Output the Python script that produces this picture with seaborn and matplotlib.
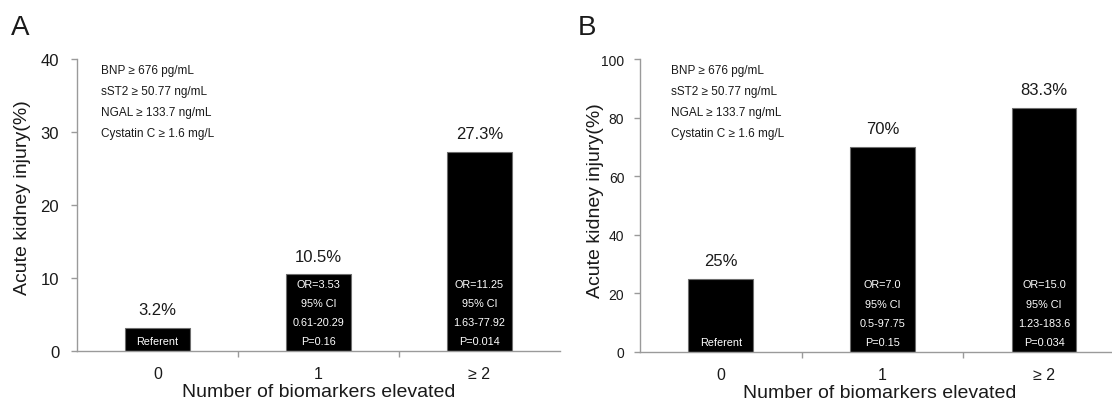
import pandas as pd
import seaborn as sns
import matplotlib.pyplot as plt

categories = ["0", "1", "≥ 2"]
aki_a = [3.2, 10.5, 27.3]
aki_b = [25.0, 70.0, 83.3]
pct_a = ["3.2%", "10.5%", "27.3%"]
pct_b = ["25%", "70%", "83.3%"]
stats_a = [["Referent"],
           ["OR=3.53", "95% CI", "0.61-20.29", "P=0.16"],
           ["OR=11.25", "95% CI", "1.63-77.92", "P=0.014"]]
stats_b = [["Referent"],
           ["OR=7.0", "95% CI", "0.5-97.75", "P=0.15"],
           ["OR=15.0", "95% CI", "1.23-183.6", "P=0.034"]]
criteria = ["BNP ≥ 676 pg/mL", "sST2 ≥ 50.77 ng/mL",
            "NGAL ≥ 133.7 ng/mL", "Cystatin C ≥ 1.6 mg/L"]

sns.set_style("white")
plt.rcParams['font.family'] = ['Liberation Sans', 'DejaVu Sans']
TXT = "#1a1a1a"
GRAY = "#9a9a9a"

fig = plt.figure(figsize=(11.12, 4.02), dpi=100)
W, H = 1112, 402


def panel(rect, vals, pct, stats, ymax, ystep, xmax, ytick_fs, ypad,
          crit_dx, ylab_x, ylab_y, xlab_x):
    ax = fig.add_axes(rect)
    df = pd.DataFrame({"n": categories, "aki": vals})
    sns.barplot(data=df, x="n", y="aki", color="black", width=0.4,
                edgecolor="#6e6e6e", linewidth=0.8, saturation=1, ax=ax)
    ax.set_xlim(-0.5, xmax)
    ax.set_ylim(0, ymax)
    ax.set_yticks(range(0, ymax + 1, ystep))
    ax.set_xticks([0.5, 1.5], minor=True)
    for s in ["top", "right"]:
        ax.spines[s].set_visible(False)
    for s in ["left", "bottom"]:
        ax.spines[s].set_color(GRAY)
        ax.spines[s].set_linewidth(1.0)
    ax.tick_params(axis="y", which="major", direction="out", length=4.3,
                   width=1.0, color=GRAY, labelsize=ytick_fs, pad=ypad,
                   labelcolor=TXT, left=True)
    ax.tick_params(axis="x", which="major", length=0, labelsize=11.5,
                   pad=10.5, labelcolor=TXT)
    ax.tick_params(axis="x", which="minor", direction="out", length=4.3,
                   width=1.0, color=GRAY, bottom=True)
    ax.set_xlabel("Number of biomarkers elevated", fontsize=14, color=TXT)
    ax.set_ylabel("Acute kidney injury(%)", fontsize=14, color=TXT)
    ax.yaxis.set_label_coords(ylab_x, ylab_y)
    ax.xaxis.set_label_coords(xlab_x, -0.11)

    for i, v in enumerate(vals):
        ax.annotate(pct[i], xy=(i, v), xytext=(0, 13), textcoords="offset points",
                    ha="center", va="center", fontsize=12, color=TXT)
        for k, line in enumerate(reversed(stats[i])):
            ax.annotate(line, xy=(i, 0), xytext=(0, 7.5 + 13.7 * k),
                        textcoords="offset points", ha="center", va="center",
                        fontsize=7.8, color="white")
    for k, line in enumerate(criteria):
        ax.annotate(line, xy=(0, 1), xycoords="axes fraction",
                    xytext=(crit_dx, -7.7 - 15.2 * k), textcoords="offset points",
                    ha="left", va="center", fontsize=8.5, color=TXT)
    return ax


panel([77 / W, (H - 352) / H, 483 / W, 292 / H], aki_a, pct_a, stats_a,
      40, 10, 2.5, 12, 8.5, 17.3, -0.095, 0.53, 0.5)
panel([640 / W, (H - 353) / H, 472 / W, 293 / H], aki_b, pct_b, stats_b,
      100, 20, 2.42, 10, 7, 22.3, -0.076, 0.52, 0.508)

fig.text(11 / W, 1 - 35 / H, "A", fontsize=20, color=TXT, va="baseline")
fig.text(578 / W, 1 - 35 / H, "B", fontsize=20, color=TXT, va="baseline")

fig.savefig("out.png", dpi=100)
